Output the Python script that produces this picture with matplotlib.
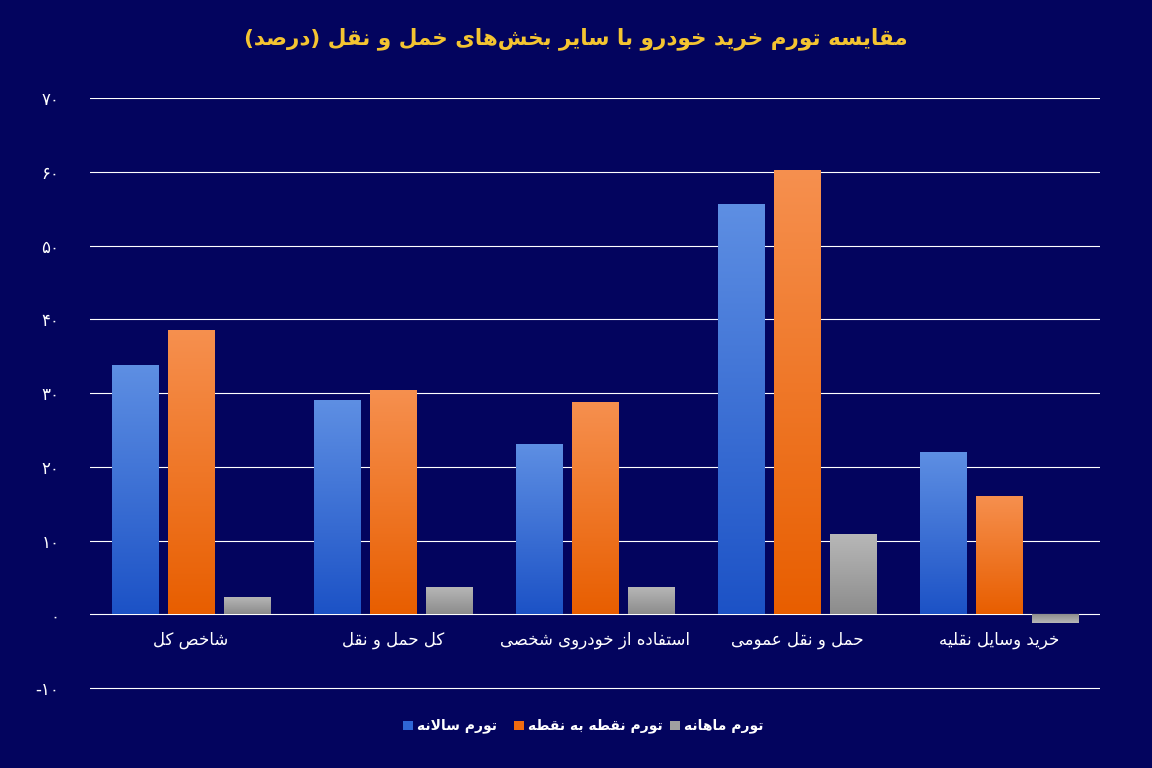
import matplotlib
matplotlib.use("Agg")
import matplotlib.pyplot as plt
import numpy as np
from matplotlib.patches import Rectangle
from matplotlib.colors import LinearSegmentedColormap

categories = ["شاخص کل", "کل حمل و نقل", "استفاده از خودروی شخصی", "حمل و نقل عمومی", "خرید وسایل نقلیه"]
series_names = ["تورم سالانه", "تورم نقطه به نقطه", "تورم ماهانه"]
annual = [33.8, 29.0, 23.1, 55.6, 22.0]
p2p = [38.5, 30.4, 28.8, 60.2, 16.0]
monthly = [2.4, 3.7, 3.7, 10.9, -1.1]
yticks = [-10, 0, 10, 20, 30, 40, 50, 60, 70]
title = "مقایسه تورم خرید خودرو با سایر بخش‌های خمل و نقل (درصد)"

FORMS = {
 '\u0627': (0xFE8D, 0xFE8E, None, None), '\u0628': (0xFE8F, 0xFE90, 0xFE91, 0xFE92),
 '\u062A': (0xFE95, 0xFE96, 0xFE97, 0xFE98), '\u062B': (0xFE99, 0xFE9A, 0xFE9B, 0xFE9C),
 '\u062C': (0xFE9D, 0xFE9E, 0xFE9F, 0xFEA0), '\u062D': (0xFEA1, 0xFEA2, 0xFEA3, 0xFEA4),
 '\u062E': (0xFEA5, 0xFEA6, 0xFEA7, 0xFEA8), '\u062F': (0xFEA9, 0xFEAA, None, None),
 '\u0630': (0xFEAB, 0xFEAC, None, None), '\u0631': (0xFEAD, 0xFEAE, None, None),
 '\u0632': (0xFEAF, 0xFEB0, None, None), '\u0633': (0xFEB1, 0xFEB2, 0xFEB3, 0xFEB4),
 '\u0634': (0xFEB5, 0xFEB6, 0xFEB7, 0xFEB8), '\u0635': (0xFEB9, 0xFEBA, 0xFEBB, 0xFEBC),
 '\u0636': (0xFEBD, 0xFEBE, 0xFEBF, 0xFEC0), '\u0637': (0xFEC1, 0xFEC2, 0xFEC3, 0xFEC4),
 '\u0638': (0xFEC5, 0xFEC6, 0xFEC7, 0xFEC8), '\u0639': (0xFEC9, 0xFECA, 0xFECB, 0xFECC),
 '\u063A': (0xFECD, 0xFECE, 0xFECF, 0xFED0), '\u0641': (0xFED1, 0xFED2, 0xFED3, 0xFED4),
 '\u0642': (0xFED5, 0xFED6, 0xFED7, 0xFED8), '\u0644': (0xFEDD, 0xFEDE, 0xFEDF, 0xFEE0),
 '\u0645': (0xFEE1, 0xFEE2, 0xFEE3, 0xFEE4), '\u0646': (0xFEE5, 0xFEE6, 0xFEE7, 0xFEE8),
 '\u0647': (0xFEE9, 0xFEEA, 0xFEEB, 0xFEEC), '\u0648': (0xFEED, 0xFEEE, None, None),
 '\u06CC': (0xFBFC, 0xFBFD, 0xFBFE, 0xFBFF), '\u06A9': (0xFB8E, 0xFB8F, 0xFB90, 0xFB91),
 '\u067E': (0xFB56, 0xFB57, 0xFB58, 0xFB59), '\u0686': (0xFB7A, 0xFB7B, 0xFB7C, 0xFB7D),
 '\u06AF': (0xFB92, 0xFB93, 0xFB94, 0xFB95), '\u0698': (0xFB8A, 0xFB8B, None, None),
}

def dual(c):
    return c in FORMS and FORMS[c][2] is not None

def shape(s):
    out = []
    n = len(s)
    i = 0
    while i < n:
        c = s[i]
        if c not in FORMS:
            if c != '\u200c':
                out.append(c)
            i += 1
            continue
        prev = s[i-1] if i > 0 else ''
        jp = dual(prev)
        if c == '\u0644' and i + 1 < n and s[i+1] == '\u0627':
            out.append(chr(0xFEFC if jp else 0xFEFB))
            i += 2
            continue
        nxt = s[i+1] if i + 1 < n else ''
        jn = dual(c) and nxt in FORMS
        f = FORMS[c]
        if jp and jn: g = f[3]
        elif jp: g = f[1]
        elif jn: g = f[2]
        else: g = f[0]
        out.append(chr(g))
        i += 1
    res = ''.join(out)[::-1]
    return res.translate(str.maketrans('()', ')('))

def fa_digits(v):
    return str(v).translate(str.maketrans('0123456789', '۰۱۲۳۴۵۶۷۸۹'))

BG = '#03045E'
fig = plt.figure(figsize=(11.52, 7.68), dpi=100, facecolor=BG)
ax = fig.add_axes([0.078, 0.100, 0.877, 0.7725], facecolor=BG)
ax.set_xlim(-0.5, 4.5)
ax.set_ylim(-10.4, 70)
for s in ax.spines.values():
    s.set_visible(False)
for t in yticks:
    ax.axhline(t, color='white', lw=0.8, zorder=1)
ax.set_yticks(yticks)
ax.set_yticklabels([fa_digits(t) if t >= 0 else '-' + fa_digits(-t) for t in yticks],
                   color='white', fontsize=12)
ax.tick_params(axis='y', length=0, pad=22)
ax.set_xticks([])

w = 0.228
off = 0.277
x = np.arange(len(categories))
cmaps = [('#5E8FE3', '#1C52C6'), ('#F6904F', '#E85E00'), ('#B8B8B8', '#8C8C8C')]
for k, (vals, (ctop, cbot)) in enumerate(zip([annual, p2p, monthly], cmaps)):
    cm = LinearSegmentedColormap.from_list('g%d' % k, [cbot, ctop])
    grad = np.linspace(0, 1, 256).reshape(-1, 1)
    for xi, v in zip(x + (k - 1) * off, vals):
        x0 = xi - w / 2
        lo, hi = min(0, v), max(0, v)
        r = Rectangle((x0, lo), w, hi - lo, facecolor='none', edgecolor='none')
        ax.add_patch(r)
        im = ax.imshow(grad if v >= 0 else grad[::-1], cmap=cm, aspect='auto', origin='lower',
                       extent=(x0, x0 + w, lo, hi), zorder=2)
        im.set_clip_path(r)

for xi, c in zip(x, categories):
    ax.text(xi, -3.4, shape(c), color='white', fontsize=12, ha='center', va='center')

fig.text(0.5, 0.95, shape(title), color='#F4C431', fontsize=15.5, fontweight='bold',
         ha='center', va='center')

leg_x = [0.350, 0.446, 0.582]
cols = ['#2F66D6', '#F06A10', '#A0A0A0']
for lx, c, nm in zip(leg_x, cols, series_names):
    fig.patches.append(Rectangle((lx, 0.049), 0.0085, 0.0125, transform=fig.transFigure,
                                 facecolor=c, edgecolor='none'))
    fig.text(lx + 0.012, 0.055, shape(nm), color='white', fontsize=10, fontweight='bold',
             ha='left', va='center')

fig.savefig('out.png', dpi=100, facecolor=BG)
